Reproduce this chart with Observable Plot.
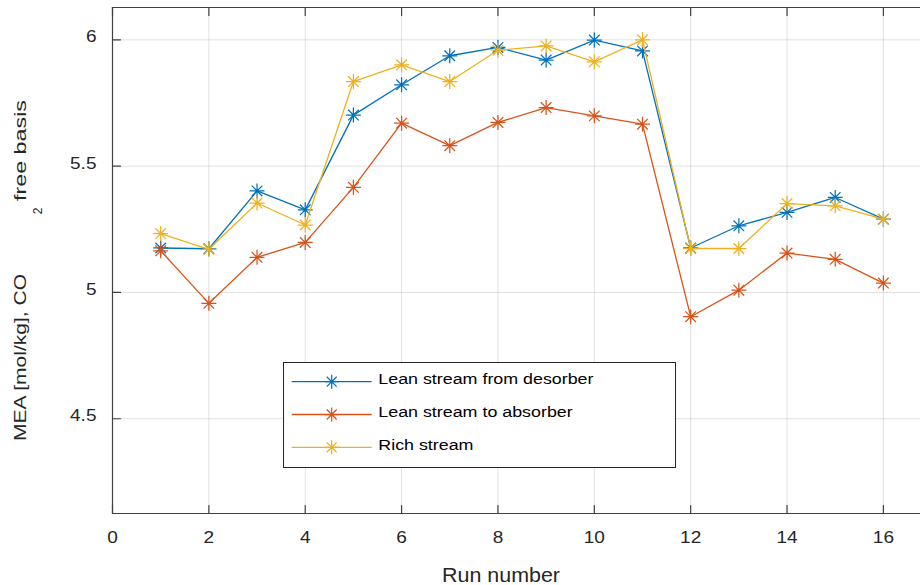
<!DOCTYPE html>
<html><head><meta charset="utf-8">
<script src="https://cdn.jsdelivr.net/npm/d3@7"></script>
<script src="https://cdn.jsdelivr.net/npm/@observablehq/plot@0.6"></script>
<style>
html,body{margin:0;padding:0;background:#fff;}
#chart{position:relative;width:920px;height:585px;overflow:hidden;}
</style></head><body><div id="chart"></div>
<script>
// ---- data ----
const runs = [1, 2, 3, 4, 5, 6, 7, 8, 9, 10, 11, 12, 13, 14, 15, 16];
const seriesNames = ["Lean stream from desorber", "Lean stream to absorber", "Rich stream"];
const seriesColors = ["#0072BD", "#D95319", "#EDB120"];
const leanFromDesorber = [5.176, 5.173, 5.402, 5.327, 5.702, 5.822, 5.937, 5.970, 5.920, 5.999, 5.956, 5.176, 5.264, 5.317, 5.376, 5.290];
const leanToAbsorber   = [5.165, 4.957, 5.139, 5.198, 5.416, 5.670, 5.581, 5.673, 5.732, 5.699, 5.666, 4.904, 5.009, 5.156, 5.131, 5.037];
const richStream       = [5.233, 5.171, 5.354, 5.267, 5.835, 5.901, 5.835, 5.959, 5.976, 5.913, 6.000, 5.174, 5.174, 5.352, 5.343, 5.290];
const xTicks = [0, 2, 4, 6, 8, 10, 12, 14, 16];
const yTicks = [4.5, 5, 5.5, 6];
const xLabel = "Run number";
const yLabelParts = ["MEA [mol/kg], CO", "2", "free basis"];

const xDomain = [0, 16.77];
const yDomain = [4.125, 6.128];

const seriesValues = [leanFromDesorber, leanToAbsorber, richStream];
const rows = [];
seriesValues.forEach((vals, s) => vals.forEach((v, i) => rows.push({run: runs[i], value: v, series: seriesNames[s]})));

const asterisk = {
  draw(ctx, size) {
    const r = Math.sqrt(size / Math.PI), d = r * Math.SQRT1_2;
    ctx.moveTo(0, -r); ctx.lineTo(0, r);
    ctx.moveTo(-r, 0); ctx.lineTo(r, 0);
    ctx.moveTo(-d, -d); ctx.lineTo(d, d);
    ctx.moveTo(-d, d); ctx.lineTo(d, -d);
  }
};
const tickShape = {draw(ctx, l) { ctx.moveTo(0, 0); ctx.lineTo(0, -l); }};

const axisColor = "#404040";
const font = "'Liberation Sans', Arial, Helvetica, sans-serif";

const seriesMarks = seriesNames.flatMap((name) => {
  const d = rows.filter((r) => r.series === name);
  return [
    Plot.line(d, {x: "run", y: "value", stroke: "series", strokeWidth: 1.3}),
    Plot.dot(d, {x: "run", y: "value", stroke: "series", symbol: asterisk, r: 7.5, strokeWidth: 1.25, fill: "none"})
  ];
});

const svg = Plot.plot({
  width: 920,
  height: 585,
  marginLeft: 112,
  marginRight: 0,
  marginTop: 7,
  marginBottom: 72,
  style: {fontFamily: font, fontSize: "17px", color: "#262626", background: "#fff", overflow: "visible"},
  x: {domain: xDomain},
  y: {domain: yDomain},
  color: {domain: seriesNames, range: seriesColors},
  marks: [
    Plot.gridX(xTicks, {stroke: "#000", strokeOpacity: 0.12, strokeWidth: 1}),
    Plot.gridY(yTicks, {stroke: "#000", strokeOpacity: 0.12, strokeWidth: 1}),
    Plot.ruleX([xDomain[0]], {stroke: axisColor, strokeWidth: 1.2}),
    Plot.ruleY([yDomain[0], yDomain[1]], {stroke: axisColor, strokeWidth: 1.2}),
    Plot.vector(xTicks, {x: (d) => d, y: yDomain[0], length: 8, rotate: 0, anchor: "start", shape: tickShape, stroke: axisColor, strokeWidth: 1.2}),
    Plot.vector(xTicks, {x: (d) => d, y: yDomain[1], length: 8, rotate: 180, anchor: "start", shape: tickShape, stroke: axisColor, strokeWidth: 1.2}),
    Plot.vector(yTicks, {x: xDomain[0], y: (d) => d, length: 8, rotate: 90, anchor: "start", shape: tickShape, stroke: axisColor, strokeWidth: 1.2}),
    ...seriesMarks,
    Plot.axisX(xTicks, {anchor: "bottom", tickSize: 0, tickPadding: 17.5, label: null, fontSize: 17}),
    Plot.axisY(yTicks, {anchor: "left", tickSize: 0, tickPadding: 16, dy: -3, label: null, fontSize: 17, tickFormat: (d) => String(d)})
  ]
});

// widen tick label glyphs slightly, like the reference font
svg.querySelectorAll('g[aria-label$="tick label"] text').forEach((t) => {
  const tr = t.getAttribute("transform");
  if (tr) t.setAttribute("transform", tr + " scale(1.12,1)");
  else {
    const x = +t.getAttribute("x") || 0, y = +t.getAttribute("y") || 0;
    t.removeAttribute("x"); t.removeAttribute("y");
    t.setAttribute("transform", `translate(${x},${y}) scale(1.12,1)`);
  }
});

const s = d3.select(svg);

// axis labels
const lab = s.append("g").attr("font-family", font).attr("fill", "#262626").attr("text-anchor", "start");
lab.append("text").attr("x", 501).attr("y", 581.5).attr("text-anchor", "middle")
  .attr("font-size", 20.5).attr("textLength", 118).attr("lengthAdjust", "spacingAndGlyphs").text(xLabel);
lab.append("text").attr("transform", "translate(26,441) rotate(-90)").attr("font-size", 17).attr("text-anchor", "start")
  .attr("textLength", 167).attr("lengthAdjust", "spacingAndGlyphs").text(yLabelParts[0]);
lab.append("text").attr("transform", "translate(42,211) rotate(-90)").attr("text-anchor", "middle")
  .attr("font-size", 12).text(yLabelParts[1]);
lab.append("text").attr("transform", "translate(26,201) rotate(-90)").attr("font-size", 17).attr("text-anchor", "start")
  .attr("textLength", 101).attr("lengthAdjust", "spacingAndGlyphs").text(yLabelParts[2]);

// legend
const lg = s.append("g").attr("font-family", font).attr("text-anchor", "start");
lg.append("rect").attr("x", 283.5).attr("y", 362.5).attr("width", 392).attr("height", 105)
  .attr("fill", "#fff").attr("stroke", "#262626").attr("stroke-width", 1);
const symPath = d3.symbol(asterisk, 7 * 7 * Math.PI)();
seriesNames.forEach((name, i) => {
  const cy = 381.7 + i * 32.8;
  lg.append("line").attr("x1", 291.7).attr("x2", 371.7).attr("y1", cy).attr("y2", cy)
    .attr("stroke", seriesColors[i]).attr("stroke-width", 1.3);
  lg.append("path").attr("d", symPath).attr("transform", `translate(331.7,${cy})`)
    .attr("fill", "none").attr("stroke", seriesColors[i]).attr("stroke-width", 1.25);
  lg.append("text").attr("transform", `translate(378.3,${cy + 2.6}) scale(1.16,1)`)
    .attr("text-anchor", "start").attr("font-size", 15.4).attr("fill", "#000").text(name);
});

document.getElementById("chart").appendChild(svg);
</script>
</body></html>
